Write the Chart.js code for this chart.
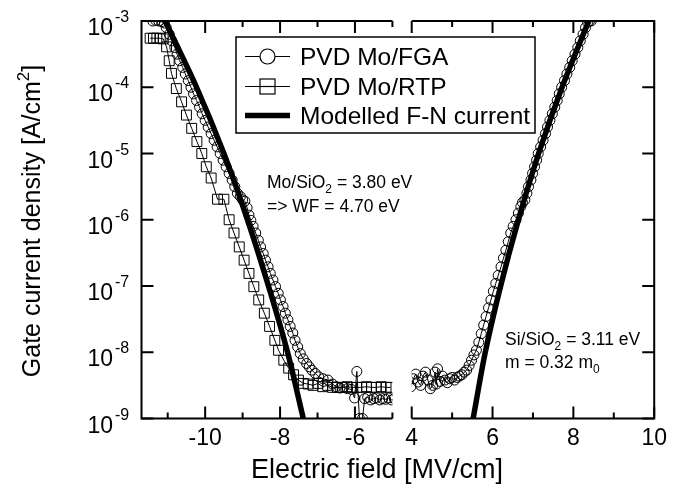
<!DOCTYPE html>
<html>
<head>
<meta charset="utf-8">
<script src="https://cdn.jsdelivr.net/npm/chart.js@4.4.1/dist/chart.umd.min.js"></script>
<style>
  html, body { margin: 0; padding: 0; background: #fff; }
  #chart { display: block; }
</style>
</head>
<body>
<canvas id="chart" width="673" height="491"></canvas>
<script>
const FONT = '"Liberation Sans", Arial, Helvetica, sans-serif'

// [electric field (MV/cm), log10 of gate current density (A/cm2)]
const fgaNeg = [
  [-11.40, -3.00], [-11.32, -2.99], [-11.24, -3.00], [-11.16, -3.01], [-11.09, -3.03],
  [-11.04, -3.10], [-10.96, -3.20], [-10.89, -3.30], [-10.81, -3.40], [-10.75, -3.50],
  [-10.68, -3.60], [-10.60, -3.70], [-10.53, -3.80], [-10.45, -3.90], [-10.38, -4.00],
  [-10.31, -4.10], [-10.23, -4.20], [-10.15, -4.30], [-10.08, -4.40], [-10.00, -4.50],
  [-9.92, -4.60], [-9.84, -4.70], [-9.76, -4.80], [-9.68, -4.90], [-9.60, -5.00],
  [-9.52, -5.10], [-9.44, -5.20], [-9.36, -5.30], [-9.28, -5.40], [-9.21, -5.50],
  [-9.14, -5.60], [-9.06, -5.65], [-9.00, -5.70], [-8.94, -5.72], [-8.88, -5.82],
  [-8.83, -5.93], [-8.78, -6.01], [-8.72, -6.10], [-8.65, -6.20], [-8.58, -6.31],
  [-8.52, -6.41], [-8.45, -6.51], [-8.39, -6.61], [-8.32, -6.71], [-8.26, -6.81],
  [-8.19, -6.91], [-8.12, -7.01], [-8.05, -7.11], [-7.99, -7.21], [-7.92, -7.31],
  [-7.86, -7.41], [-7.79, -7.51], [-7.73, -7.61], [-7.66, -7.71], [-7.60, -7.82],
  [-7.53, -7.92], [-7.46, -8.02], [-7.38, -8.10], [-7.29, -8.17], [-7.22, -8.22],
  [-7.15, -8.27], [-7.06, -8.32], [-6.97, -8.37], [-6.85, -8.40], [-6.72, -8.42],
  [-6.60, -8.48], [-6.50, -8.52], [-6.40, -8.54], [-6.30, -8.53], [-6.20, -8.55],
  [-6.10, -8.56], [-6.01, -8.69], [-5.95, -8.29], [-5.88, -9.00], [-5.80, -9.00],
  [-5.74, -8.70], [-5.66, -8.68], [-5.58, -8.72], [-5.50, -8.70], [-5.42, -8.69],
  [-5.34, -8.72], [-5.26, -8.70], [-5.18, -8.71], [-5.10, -8.69], [-5.02, -8.72],
  [-4.95, -8.70]
]

const fgaPos = [
  [3.98, -8.52], [4.04, -8.40], [4.10, -8.33], [4.16, -8.45], [4.22, -8.50],
  [4.28, -8.36], [4.34, -8.30], [4.40, -8.42], [4.46, -8.55], [4.52, -8.50],
  [4.58, -8.30], [4.61, -8.48], [4.64, -8.25], [4.70, -8.44], [4.76, -8.36],
  [4.82, -8.42], [4.88, -8.46], [4.94, -8.40], [5.00, -8.38], [5.06, -8.42],
  [5.12, -8.38], [5.18, -8.36], [5.24, -8.34], [5.30, -8.30], [5.36, -8.27],
  [5.42, -8.20], [5.48, -8.12], [5.54, -8.04], [5.60, -7.97], [5.66, -7.85],
  [5.72, -7.72], [5.78, -7.59], [5.84, -7.46], [5.90, -7.33], [5.96, -7.21],
  [6.02, -7.08], [6.08, -6.96], [6.14, -6.84], [6.21, -6.71], [6.27, -6.58],
  [6.33, -6.46], [6.39, -6.33], [6.45, -6.20], [6.51, -6.10], [6.58, -6.00],
  [6.64, -5.90], [6.70, -5.80], [6.74, -5.74], [6.80, -5.70], [6.85, -5.60],
  [6.89, -5.50], [6.95, -5.40], [6.99, -5.30], [7.04, -5.20], [7.09, -5.10],
  [7.13, -5.00], [7.19, -4.90], [7.25, -4.80], [7.31, -4.70], [7.36, -4.60],
  [7.42, -4.50], [7.48, -4.40], [7.54, -4.30], [7.60, -4.20], [7.65, -4.10],
  [7.71, -4.00], [7.78, -3.90], [7.84, -3.80], [7.91, -3.70], [7.97, -3.60],
  [8.04, -3.50], [8.11, -3.40], [8.17, -3.30], [8.24, -3.20], [8.30, -3.10],
  [8.35, -3.02], [8.40, -3.00], [8.44, -3.00]
]

const rtpNeg = [
  [-11.47, -3.26], [-11.38, -3.26], [-11.29, -3.26], [-11.20, -3.26], [-11.12, -3.27],
  [-11.03, -3.39], [-10.96, -3.60], [-10.90, -3.79], [-10.77, -4.02], [-10.63, -4.22],
  [-10.50, -4.42], [-10.36, -4.62], [-10.22, -4.82], [-10.09, -5.00], [-9.97, -5.20],
  [-9.84, -5.37], [-9.67, -5.69], [-9.50, -5.69], [-9.36, -6.00], [-9.23, -6.20],
  [-9.09, -6.41], [-8.96, -6.61], [-8.83, -6.81], [-8.70, -7.01], [-8.57, -7.21],
  [-8.42, -7.41], [-8.28, -7.61], [-8.14, -7.82], [-8.04, -7.97], [-7.90, -8.12],
  [-7.77, -8.24], [-7.64, -8.34], [-7.51, -8.42], [-7.38, -8.47], [-7.25, -8.48],
  [-7.12, -8.50], [-6.99, -8.47], [-6.86, -8.52], [-6.73, -8.50], [-6.60, -8.53],
  [-6.47, -8.53], [-6.34, -8.53], [-6.21, -8.52], [-6.08, -8.53], [-5.95, -8.53],
  [-5.82, -8.53], [-5.69, -8.52], [-5.56, -8.53], [-5.43, -8.53], [-5.30, -8.52],
  [-5.17, -8.53], [-5.05, -8.53]
]

const modelNeg = [
  [-11.07, -3], [-10.23, -4], [-9.50, -5], [-8.87, -6], [-8.31, -7], [-7.80, -8], [-7.38, -9]
]
const modelPos = [
  [5.52, -9], [5.82, -8], [6.20, -7], [6.64, -6], [7.14, -5], [7.72, -4], [8.38, -3]
]

const seriesNames = ['PVD Mo/FGA', 'PVD Mo/RTP', 'Modelled F-N current']

const xTicksNeg = [-10, -8, -6]
const xMinorNeg = [-11, -9, -7, -5]
const xTicksPos = [4, 6, 8, 10]
const xMinorPos = [5, 7, 9]
const yTickExps = [-3, -4, -5, -6, -7, -8, -9]

const xTitle = 'Electric field [MV/cm]'
const yTitle = ['Gate current density [A/cm', '2', ']']
const noteMetal = [['Mo/SiO', '2', ' = 3.80 eV'], ['=> WF = 4.70 eV', '', '']]
const noteSi = [['Si/SiO', '2', ' = 3.11 eV'], ['m = 0.32 m', '0', '']]

const toPoints = (pairs) => pairs.map(([e, p]) => ({ x: e, y: 10 ** p }))

const thin = {
  showLine: true,
  borderColor: '#000',
  borderWidth: 1,
  pointBorderColor: '#000',
  pointBackgroundColor: 'rgba(0,0,0,0)',
  pointBorderWidth: 1,
}
const thick = {
  showLine: true,
  borderColor: '#000',
  borderWidth: 5.5,
  pointRadius: 0,
  tension: 0.3,
}

function richText(ctx, parts, x, y, size, subSize, subDy) {
  ctx.font = size + 'px ' + FONT
  ctx.fillText(parts[0], x, y)
  x += ctx.measureText(parts[0]).width
  if (parts[1]) {
    ctx.font = subSize + 'px ' + FONT
    ctx.fillText(parts[1], x, y + subDy)
    x += ctx.measureText(parts[1]).width
  }
  if (parts[2]) {
    ctx.font = size + 'px ' + FONT
    ctx.fillText(parts[2], x, y)
  }
}

const decorPlugin = {
  id: 'decor',
  afterDraw(chart) {
    const { ctx, chartArea: a, scales } = chart
    const xL = scales.xL, xR = scales.xR, y = scales.y
    ctx.save()
    ctx.strokeStyle = '#000'
    ctx.fillStyle = '#000'
    ctx.lineWidth = 2
    ctx.lineJoin = 'miter'

    // panel frames
    ctx.beginPath()
    ctx.moveTo(xL.right, a.top); ctx.lineTo(xL.left, a.top)
    ctx.lineTo(xL.left, a.bottom); ctx.lineTo(xL.right, a.bottom)
    ctx.moveTo(xR.left, a.top); ctx.lineTo(xR.right, a.top)
    ctx.lineTo(xR.right, a.bottom); ctx.lineTo(xR.left, a.bottom)
    ctx.stroke()

    // inward ticks
    ctx.beginPath()
    const xTick = (sc, v, len) => {
      const px = sc.getPixelForValue(v)
      ctx.moveTo(px, a.top); ctx.lineTo(px, a.top + len)
      ctx.moveTo(px, a.bottom); ctx.lineTo(px, a.bottom - len)
    }
    xTicksNeg.forEach((v) => xTick(xL, v, 12))
    xMinorNeg.forEach((v) => xTick(xL, v, 6))
    xTicksPos.forEach((v) => xTick(xR, v, 12))
    xMinorPos.forEach((v) => xTick(xR, v, 6))
    yTickExps.forEach((e) => {
      const py = y.getPixelForValue(10 ** e)
      ctx.moveTo(xL.left, py); ctx.lineTo(xL.left + 12, py)
      ctx.moveTo(xR.right, py); ctx.lineTo(xR.right - 12, py)
    })
    ctx.stroke()

    // y tick labels 10^n
    yTickExps.forEach((e) => {
      const py = y.getPixelForValue(10 ** e)
      ctx.textAlign = 'right'
      ctx.textBaseline = 'alphabetic'
      ctx.font = '23px ' + FONT
      ctx.fillText('10', 113, py + 14)
      ctx.textAlign = 'left'
      ctx.font = '16px ' + FONT
      ctx.fillText(String(e), 115, py + 1)
    })

    // axis titles
    ctx.textAlign = 'center'
    ctx.font = '27px ' + FONT
    ctx.fillText(xTitle, 377, 478)

    ctx.save()
    ctx.translate(40, 221)
    ctx.rotate(-Math.PI / 2)
    ctx.textAlign = 'left'
    ctx.font = '25px ' + FONT
    const w0 = ctx.measureText(yTitle[0]).width
    const w2 = ctx.measureText(yTitle[2]).width
    ctx.font = '17px ' + FONT
    const w1 = ctx.measureText(yTitle[1]).width
    richText(ctx, yTitle, -(w0 + w1 + w2) / 2, 0, 25, 17, -11)
    ctx.restore()

    // annotations
    ctx.textAlign = 'left'
    noteMetal.forEach((parts, i) => richText(ctx, parts, 267, 188 + i * 24, 17.5, 12, 5))
    noteSi.forEach((parts, i) => richText(ctx, parts, 505, 345 + i * 23, 17.5, 12, 5))

    // legend
    const lx = 236, ly = 37, lw = 299, lh = 96
    ctx.fillStyle = '#fff'
    ctx.fillRect(lx, ly, lw, lh)
    ctx.lineWidth = 1.5
    ctx.strokeRect(lx, ly, lw, lh)
    const rows = [56.5, 86.5, 115.5]
    rows.forEach((ry, i) => {
      ctx.beginPath()
      ctx.lineWidth = i === 2 ? 5.5 : 1.2
      ctx.moveTo(245, ry); ctx.lineTo(290, ry)
      ctx.stroke()
      ctx.lineWidth = 1.2
      if (i === 0) {
        ctx.beginPath()
        ctx.arc(267.5, ry, 7.5, 0, Math.PI * 2)
        ctx.fillStyle = '#fff'; ctx.fill(); ctx.stroke()
      } else if (i === 1) {
        ctx.fillStyle = '#fff'
        ctx.fillRect(260, ry - 7.5, 15, 15)
        ctx.strokeRect(260, ry - 7.5, 15, 15)
        ctx.beginPath(); ctx.moveTo(260, ry); ctx.lineTo(275, ry); ctx.stroke()
      }
      ctx.fillStyle = '#000'
      ctx.font = '24.5px ' + FONT
      ctx.textBaseline = 'alphabetic'
      ctx.fillText(seriesNames[i], 300, ry + 8.5)
    })
    ctx.restore()
  },
}

const tickFont = { family: FONT, size: 23 }
const xAxis = (weight, min, max, ticks) => ({
  type: 'linear',
  position: 'bottom',
  stack: 'field',
  stackWeight: weight,
  min,
  max,
  grid: { display: false, drawTicks: false },
  border: { display: false },
  ticks: { font: tickFont, color: '#000', padding: 6, autoSkip: false, maxRotation: 0, minRotation: 0 },
  afterBuildTicks: (s) => { s.ticks = ticks.map((v) => ({ value: v })) },
  afterFit: (s) => { s.height = 72.5 },
})

new Chart(document.getElementById('chart').getContext('2d'), {
  type: 'scatter',
  data: {
    datasets: [
      { label: seriesNames[2], data: toPoints(modelNeg), xAxisID: 'xL', ...thick },
      { label: seriesNames[2], data: toPoints(modelPos), xAxisID: 'xR', ...thick },
      { label: seriesNames[0], data: toPoints(fgaNeg), xAxisID: 'xL', ...thin, pointStyle: 'circle', pointRadius: 5 },
      { label: seriesNames[0], data: toPoints(fgaPos), xAxisID: 'xR', ...thin, pointStyle: 'circle', pointRadius: 5 },
      { label: seriesNames[1], data: toPoints(rtpNeg), xAxisID: 'xL', ...thin, pointStyle: 'rect', pointRadius: 7 },
    ],
  },
  options: {
    responsive: false,
    animation: false,
    events: [],
    layout: { padding: { top: 21, right: 13.5, left: 0, bottom: 0 } },
    plugins: {
      legend: { display: false },
      tooltip: { enabled: false },
    },
    scales: {
      xL: xAxis(253.5, -11.7, -5, xTicksNeg),
      xGap: { type: 'linear', position: 'bottom', stack: 'field', stackWeight: 19.5, min: 0, max: 1, display: false, afterFit: (s) => { s.height = 72.5 } },
      xR: xAxis(245, 4, 10, xTicksPos),
      y: {
        type: 'logarithmic',
        min: 1e-9,
        max: 1e-3,
        grid: { display: false },
        border: { display: false },
        ticks: { display: false },
        afterFit: (s) => { s.width = 141.5 },
      },
    },
  },
  plugins: [decorPlugin],
})
</script>
</body>
</html>
